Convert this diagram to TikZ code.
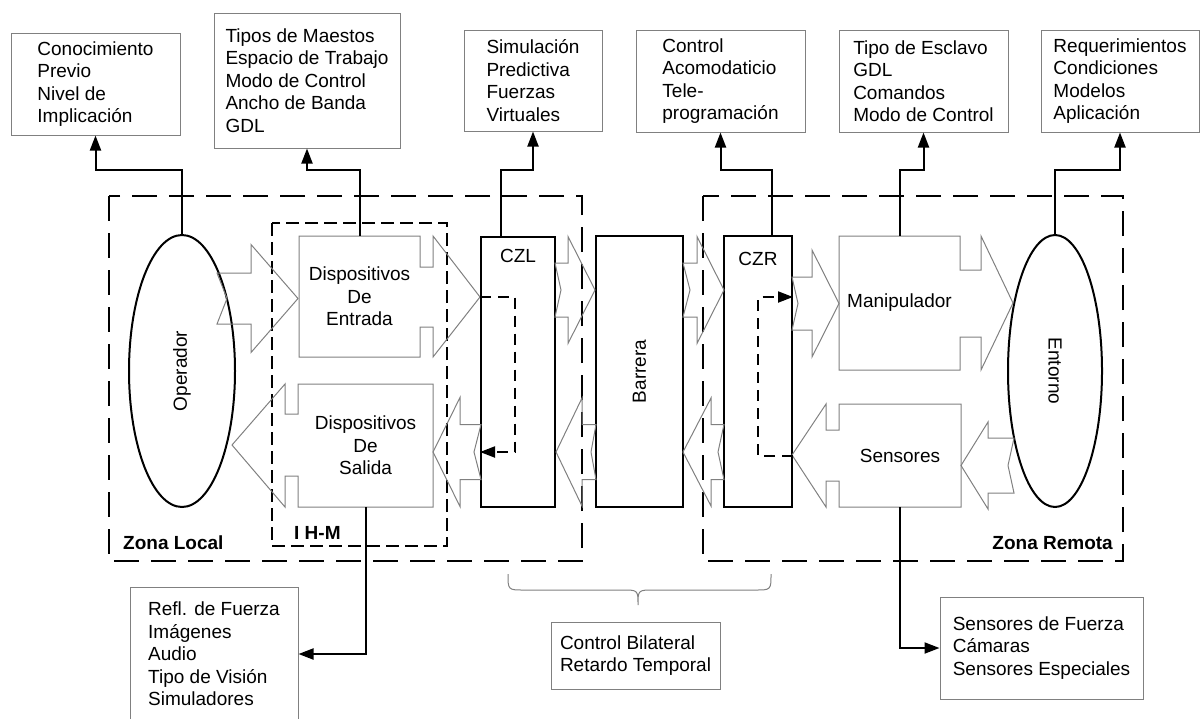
\documentclass[tikz,border=0pt]{standalone}
\usepackage{fontspec}
\setmainfont{Liberation Sans}
\usetikzlibrary{shapes.geometric,arrows.meta}
\definecolor{gris}{gray}{0.5}
\newcommand{\flecha}[7]{%
	\draw[bloque] (#1,{#3-#4}) -- ({#2-(#6)},{#3-#4}) -- ({#2-(#6)},{#3-#5}) -- (#2,#3) -- ({#2-(#6)},{#3+#5}) -- ({#2-(#6)},{#3+#4}) -- (#1,{#3+#4}) -- ({#1+(#7)},#3) -- cycle;}

\begin{document}
\begin{tikzpicture}[x=1pt,y=-1pt,
		font=\fontsize{19}{22.5}\selectfont,
		caja/.style={draw=gris,line width=1pt,align=left,inner sep=0pt},
		bloque/.style={draw=gris,line width=1pt},
		hueco/.style={inner sep=0pt,align=center},
		fuerte/.style={draw,line width=2pt,inner sep=0pt},
		elipse/.style={ellipse,draw,line width=2pt,inner sep=0pt},
		zona/.style={line width=2pt,dash pattern=on 25pt off 12pt},
		ihm/.style={line width=2pt,dash pattern=on 13pt off 6pt},
		enlace/.style={line width=2pt,-{Triangle[length=15pt,width=11pt]}},
		lazo/.style={line width=2pt,dash pattern=on 11pt off 7pt,-{Triangle[length=15pt,width=11pt]}},
		rotulo/.style={font=\fontsize{19}{22.5}\selectfont\bfseries,inner sep=0pt}]
	\useasboundingbox (0,0) rectangle (1201,718);
	\draw[zona] (109,196) rectangle (582,561);
	\draw[zona] (703,196) rectangle (1123,561);
	\draw[ihm] (272,223) rectangle (447,546);
	\node[rotulo,anchor=west] (local) at (123,543) {Zona Local};
	\node[rotulo,anchor=west] (ihmtxt) at (294,533) {I H-M};
	\node[rotulo,anchor=east] (remota) at (1113,543) {Zona Remota};

	\node[elipse,minimum width=106pt,minimum height=272pt] (operador) at (182,371) {};
	\node[rotate=90] (optxt) at (operador) {Operador};
	\node[elipse,minimum width=94pt,minimum height=272pt] (entorno) at (1055,371) {};
	\node[rotate=-90] (entxt) at (entorno) {Entorno};

	\node[fuerte,minimum width=74pt,minimum height=270pt] (czl) at (518,372) {};
	\node[fuerte,minimum width=87pt,minimum height=271pt] (barrera) at (639.5,371.5) {};
	\node[fuerte,minimum width=68pt,minimum height=271pt] (czr) at (758,371.5) {};
	\node (czltxt) at ([yshift=-20pt]czl.north) {CZL};
	\node[rotate=90] (bartxt) at (barrera) {Barrera};
	\node (czrtxt) at ([yshift=-24pt]czr.north) {CZR};

	\draw[bloque] (299,236) -- (420,236) -- (420,267) -- (433,267) -- (433,236) -- (480,297) -- (433,357) -- (433,327) -- (420,327) -- (420,357) -- (299,357) -- cycle;
	\draw[bloque] (433,384) -- (298,384) -- (298,414) -- (285,414) -- (285,384) -- (232,445) -- (285,507) -- (285,476) -- (298,476) -- (298,507) -- (433,507) -- cycle;
	\draw[bloque] (839,236) -- (960,236) -- (960,270) -- (981,270) -- (981,236) -- (1013,303) -- (981,370) -- (981,337) -- (960,337) -- (960,370) -- (839,370) -- cycle;
	\draw[bloque] (961,404) -- (839,404) -- (839,430) -- (826,430) -- (826,404) -- (792,455) -- (826,507) -- (826,481) -- (839,481) -- (839,507) -- (961,507) -- cycle;
	\node[hueco,minimum width=121pt,minimum height=121pt] (entrada) at (359.5,296.5) {Dispositivos\\De\\Entrada};
	\node[hueco,minimum width=135pt,minimum height=123pt] (salida) at (365.5,445.5) {Dispositivos\\De\\Salida};
	\node[hueco,minimum width=121pt,minimum height=134pt] (manipulador) at (899.5,303) {Manipulador};
	\node[hueco,minimum width=122pt,minimum height=103pt] (sensores) at (900,455.5) {Sensores};

	\flecha{217}{298}{298.5}{25.5}{54}{47}{10}
	\flecha{555}{595}{290}{27}{53.5}{27}{6}
	\flecha{683}{724}{290}{27}{53.5}{27}{7}
	\flecha{792}{839}{303.5}{26.5}{53.5}{27}{6}
	\flecha{481}{433}{452}{27.5}{54.5}{-27}{-7}
	\flecha{596}{556}{452}{27.5}{54}{-26}{-5}
	\flecha{724}{683}{452}{27.5}{54}{-28}{-6}
	\flecha{1014}{961}{465.5}{27.5}{43.5}{-27}{-6}

	\coordinate (vuelta) at (515,452);
	\coordinate (ida) at (758,297);
	\draw[lazo] (czl.west |- entrada) -| (vuelta) -- (czl.west |- vuelta);
	\draw[lazo] (czr.east |- sensores) -| (ida) -- (czr.east |- ida);

	\node[caja,minimum width=169pt,minimum height=102pt] (b1) at (95.5,84) {Conocimiento\\Previo\\Nivel de\\Implicación};
	\node[caja,minimum width=186pt,minimum height=135pt] (b2) at (307,80.5) {Tipos de Maestos\\Espacio de Trabajo\\Modo de Control\\Ancho de Banda\\GDL};
	\node[caja,minimum width=138pt,minimum height=101pt] (b3) at (533,80.5) {Simulación\\Predictiva\\Fuerzas\\Virtuales};
	\node[caja,minimum width=169pt,minimum height=102pt] (b4) at (720.5,81) {Control\\Acomodaticio\\Tele-\\programación};
	\node[caja,minimum width=169pt,minimum height=102pt] (b5) at (923.5,81) {Tipo de Esclavo\\GDL\\Comandos\\Modo de Control};
	\node[caja,minimum width=158pt,minimum height=102pt] (b6) at (1120,81) {Requerimientos\\Condiciones\\Modelos\\Aplicación};
	\node[caja,minimum width=168pt,minimum height=134pt] (b7) at (214,654) {Refl. de Fuerza\\Imágenes\\Audio\\Tipo de Visión\\Simuladores};
	\node[caja,minimum width=169pt,minimum height=67pt] (b8) at (635.5,655.5) {Control Bilateral\\Retardo Temporal};
	\node[caja,minimum width=203pt,minimum height=102pt] (b9) at (1041.5,648) {Sensores de Fuerza\\Cámaras\\Sensores Especiales};

	\coordinate (nivel) at (0,170);
	\coordinate (czlsal) at ([xshift=-17pt]czl.north);
	\coordinate (czrsal) at ([xshift=14pt]czr.north);
	\draw[enlace] (operador.north) -- (operador.north |- nivel) -| (b1.south);
	\draw[enlace] (entrada.north) -- (entrada.north |- nivel) -| (b2.south);
	\draw[enlace] (czlsal) -- (czlsal |- nivel) -| (b3.south);
	\draw[enlace] (czrsal) -- (czrsal |- nivel) -| (b4.south);
	\draw[enlace] (manipulador.north) -- (manipulador.north |- nivel) -| (b5.south);
	\draw[enlace] (entorno.north) -- (entorno.north |- nivel) -| (b6.south);
	\draw[enlace] (salida.south) |- (b7.east);
	\draw[enlace] (sensores.south) |- (b9.west);

	\draw[bloque] (508,574) .. controls (508,590) .. (524,590) -- (622,590) .. controls (638,590) .. (638,605) .. controls (638,590) .. (654,590) -- (755,590) .. controls (771,590) .. (771,574);
\end{tikzpicture}
\end{document}
